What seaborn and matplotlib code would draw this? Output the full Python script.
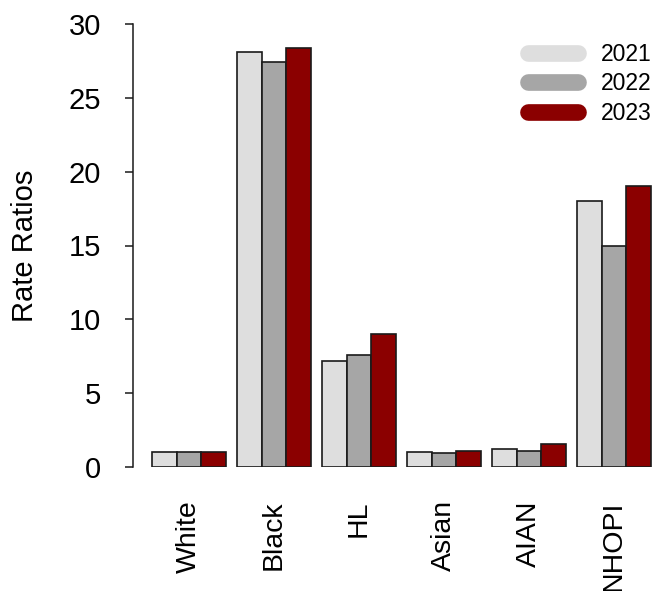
import matplotlib
matplotlib.use("Agg")
import matplotlib.pyplot as plt
from matplotlib.lines import Line2D
import seaborn as sns
import pandas as pd

# Rate ratios by group and year
groups = ["White", "Black", "HL", "Asian", "AIAN", "NHOPI"]
years = ["2021", "2022", "2023"]
rr_2021 = [1.0, 28.1, 7.2, 1.0, 1.25, 18.0]
rr_2022 = [1.0, 27.4, 7.6, 0.93, 1.07, 15.0]
rr_2023 = [1.0, 28.35, 9.0, 1.07, 1.58, 19.0]
y_ticks = [0, 5, 10, 15, 20, 25, 30]
colors = ["#DEDEDE", "#A6A6A6", "#8B0000"]

df = pd.DataFrame({
    "group": groups * 3,
    "year": [years[0]] * 6 + [years[1]] * 6 + [years[2]] * 6,
    "rr": rr_2021 + rr_2022 + rr_2023,
})

sns.set_theme(style="white")
plt.rcParams["font.family"] = ["Liberation Sans", "DejaVu Sans"]
plt.rcParams.update({
    "text.color": "black",
    "axes.labelcolor": "black",
    "xtick.color": "black",
    "ytick.color": "black",
})

fig = plt.figure(figsize=(6.55, 5.91), dpi=100)
ax = fig.add_axes([133 / 655, 124 / 591, 520 / 655, 443 / 591])

sns.barplot(
    data=df, x="group", y="rr", hue="year", order=groups, hue_order=years,
    palette=colors, width=0.87, edgecolor="#1a1a1a", linewidth=1.2,
    saturation=1, legend=False, ax=ax,
)

ax.set_xlim(-0.66, 5.46)
ax.set_ylim(0, 30)
ax.set_yticks(y_ticks)
ax.set_yticklabels([str(t) for t in y_ticks], fontsize=21)
ax.set_xticks(range(len(groups)))
ax.set_xticklabels(groups, rotation=90, fontsize=20.5, va="top")
ax.tick_params(axis="x", length=0, pad=24)
ax.tick_params(axis="y", length=6, width=1.1, color="#1a1a1a", pad=17, left=True)
ax.set_xlabel("")
ax.set_ylabel("Rate Ratios", fontsize=21, labelpad=21)

for side in ["top", "right", "bottom"]:
    ax.spines[side].set_visible(False)
ax.spines["left"].set_color("#1a1a1a")
ax.spines["left"].set_linewidth(1.1)

handles = [Line2D([0], [0], color=c, lw=12, solid_capstyle="round") for c in colors]
ax.legend(
    handles, years, loc="upper left", bbox_to_anchor=(528 / 655, 1 - 43 / 591),
    bbox_transform=fig.transFigure, frameon=False, fontsize=16.5,
    handlelength=2.2, handletextpad=1.0, labelspacing=0.28,
    borderpad=0, borderaxespad=0,
)

fig.savefig("out.png", dpi=100)
